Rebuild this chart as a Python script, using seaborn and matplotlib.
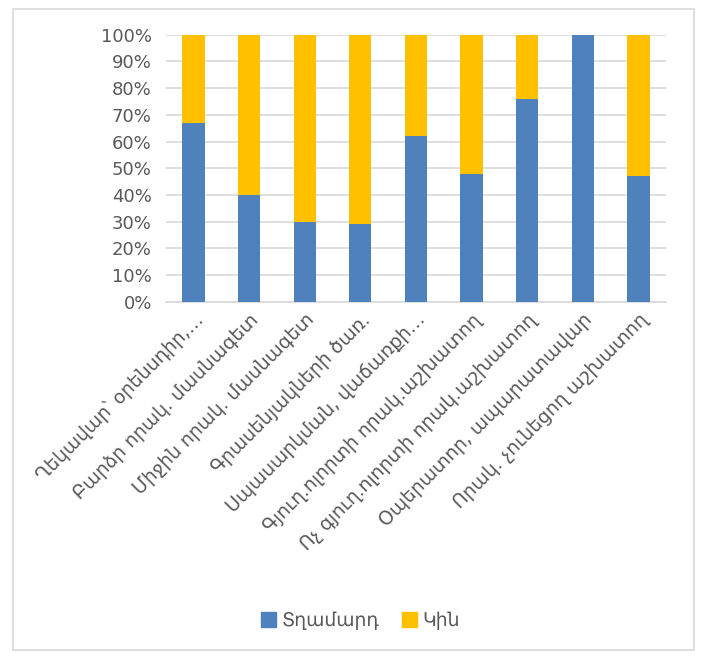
import matplotlib
matplotlib.use("Agg")
import matplotlib.pyplot as plt
import seaborn as sns
import pandas as pd
from matplotlib.patches import Rectangle

categories = [
    "Ղեկավար՝ օրենսդիր,…",
    "Բարձր որակ. մասնագետ",
    "Միջին որակ. մասնագետ",
    "Գրասենյակների ծառ.",
    "Սպասարկման, վաճառքի…",
    "Գյուղ.ոլորտի որակ.աշխատող",
    "Ոչ գյուղ.ոլորտի որակ.աշխատող",
    "Օպերատոր, ապարատավար",
    "Որակ. չունեցող աշխատող",
]
male = [67, 40, 30, 29, 62, 48, 76, 100, 47]
female = [100 - m for m in male]
series_names = ["Տղամարդ", "Կին"]
y_ticks = list(range(0, 101, 10))

blue = "#4F81BD"
yellow = "#FFC000"

sns.set_style("white")
plt.rcParams["font.family"] = ["DejaVu Sans"]

df = pd.DataFrame({"cat": categories, "male": male,
                   "total": [m + f for m, f in zip(male, female)]})

fig = plt.figure(figsize=(7.02, 6.56), dpi=100)
ax = fig.add_axes([0.236, 0.540, 0.713, 0.407])

sns.barplot(data=df, x="cat", y="total", color=yellow, width=0.4,
            saturation=1, ax=ax, zorder=3, linewidth=0)
sns.barplot(data=df, x="cat", y="male", color=blue, width=0.4,
            saturation=1, ax=ax, zorder=4, linewidth=0)

ax.set_ylim(0, 100)
ax.set_yticks(y_ticks)
ax.set_yticklabels([f"{t}%" for t in y_ticks])
ax.yaxis.grid(True, color="#D9D9D9", linewidth=1.2, zorder=0)
ax.set_axisbelow(True)
for s in ["top", "right", "left"]:
    ax.spines[s].set_visible(False)
ax.spines["bottom"].set_color("#D9D9D9")
ax.spines["bottom"].set_linewidth(1.2)
ax.tick_params(axis="both", length=0, colors="#595959", labelsize=13)
ax.tick_params(axis="y", pad=10)
ax.set_xlabel("")
ax.set_ylabel("")
ax.set_xticks(range(len(categories)))
ax.set_xticklabels(categories, rotation=45, ha="right",
                   rotation_mode="anchor", fontsize=13.5, color="#595959")
ax.tick_params(axis="x", pad=6)

handles = [Rectangle((0, 0), 1, 1, color=blue), Rectangle((0, 0), 1, 1, color=yellow)]
fig.legend(handles, series_names, loc="center", bbox_to_anchor=(0.513, 0.054),
           ncol=2, frameon=False, fontsize=13.5, handlelength=0.8,
           handleheight=0.8, handletextpad=0.3, columnspacing=1.2,
           labelcolor="#595959")

fig.patches.append(Rectangle((0.018, 0.009), 0.970, 0.978, transform=fig.transFigure,
                             fill=False, edgecolor="#D9D9D9", linewidth=1.2))

fig.savefig("out.png", dpi=100)
